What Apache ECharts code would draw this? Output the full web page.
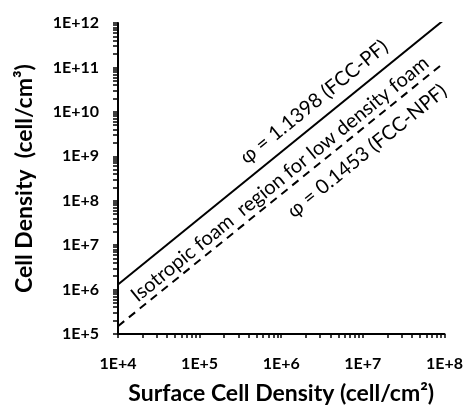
<!DOCTYPE html>
<html>
<head>
<meta charset="utf-8">
<script src="https://cdn.jsdelivr.net/npm/echarts@6/dist/echarts.min.js"></script>
<style>
  html, body { margin: 0; padding: 0; background: #fff; }
  #chart { width: 466px; height: 410px; }
</style>
</head>
<body>
<div id="chart"></div>
<script>
// data (log-log)
const surfaceDensity = [1e4, 1e8];          // cell/cm2
const pfDensity = [1.3e6, 1.2e12];          // phi = 1.1398 (FCC-PF), solid
const npfDensity = [1.5e5, 1.3e11];         // phi = 0.1453 (FCC-NPF), dashed
const xDecades = [4, 5, 6, 7, 8];
const yDecades = [5, 6, 7, 8, 9, 10, 11, 12];

const FONT = 'Lato';

// log tick positions 1..9 x 10^e, in exponent space
function logTicks(decades) {
  const out = [];
  decades.forEach(function (e, i) {
    if (i === decades.length - 1) { out.push(e); return; }
    for (let m = 1; m <= 9; m++) out.push(+(e + Math.log10(m)).toFixed(4));
  });
  return out;
}

function toLog(xs, ys) {
  return xs.map(function (x, i) { return [Math.log10(x), Math.log10(ys[i])]; });
}

const expLabel = function (v) { return '1E+' + Math.round(v); };

const chart = echarts.init(document.getElementById('chart'));

chart.setOption({
  animation: false,
  grid: { left: 118, right: 20, top: 23, bottom: 73 },
  xAxis: {
    type: 'value',
    min: xDecades[0],
    max: xDecades[xDecades.length - 1],
    interval: 1,
    name: 'Surface Cell Density (cell/cm²)',
    nameLocation: 'middle',
    nameGap: 48,
    nameTextStyle: { fontFamily: FONT, fontWeight: 'bold', fontSize: 23, color: '#000' },
    axisLine: { onZero: false, lineStyle: { color: '#000', width: 2 } },
    // interval 0 needed, otherwise custom ticks get dropped with a label formatter
    axisTick: { show: true, interval: 0, length: 4, customValues: logTicks(xDecades), lineStyle: { color: '#000', width: 1.5 } },
    axisLabel: { formatter: expLabel, margin: 22, fontFamily: FONT, fontWeight: 'bold', fontSize: 16, color: '#000' },
    splitLine: { show: false }
  },
  yAxis: {
    type: 'value',
    min: yDecades[0],
    max: yDecades[yDecades.length - 1],
    interval: 1,
    name: 'Cell Density  (cell/cm³)',
    nameLocation: 'middle',
    nameGap: 82,
    nameTextStyle: { fontFamily: FONT, fontWeight: 'bold', fontSize: 23, color: '#000' },
    axisLine: { show: true, onZero: false, lineStyle: { color: '#000', width: 2 } },
    axisTick: { show: true, interval: 0, length: 5, customValues: logTicks(yDecades), lineStyle: { color: '#000', width: 1.5 } },
    axisLabel: { formatter: expLabel, margin: 19, fontFamily: FONT, fontWeight: 'bold', fontSize: 16, color: '#000' },
    splitLine: { show: false }
  },
  series: [
    {
      type: 'line',
      data: toLog(surfaceDensity, pfDensity),
      symbol: 'none',
      lineStyle: { color: '#000', width: 2 }
    },
    {
      type: 'line',
      data: toLog(surfaceDensity, npfDensity),
      symbol: 'none',
      lineStyle: { color: '#000', width: 2, type: [8, 6] }
    }
  ]
});

// rotate the annotations along the lines
const p0 = chart.convertToPixel({ gridIndex: 0 }, [Math.log10(surfaceDensity[0]), Math.log10(pfDensity[0])]);
const p1 = chart.convertToPixel({ gridIndex: 0 }, [Math.log10(surfaceDensity[1]), Math.log10(pfDensity[1])]);
const angle = Math.atan2(p0[1] - p1[1], p1[0] - p0[0]);

function note(text, x, y) {
  return {
    type: 'text', x: x, y: y, rotation: angle,
    style: { text: text, fontFamily: FONT, fontSize: 20, fill: '#000', align: 'center', verticalAlign: 'middle' }
  };
}

chart.setOption({
  graphic: [
    note('φ = 1.1398 (FCC-PF)', 314, 102),
    note('Isotropic foam  region for low density foam', 280, 179),
    note('φ = 0.1453 (FCC-NPF)', 367, 151)
  ]
});
</script>
</body>
</html>
